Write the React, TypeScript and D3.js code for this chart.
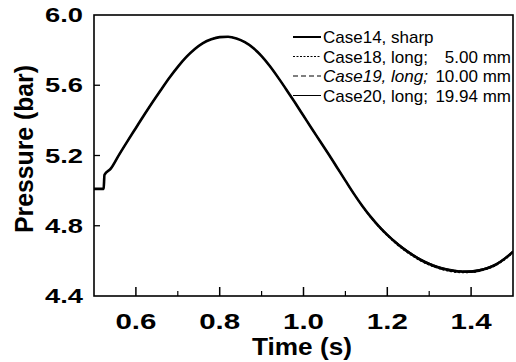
import React from "react";
import * as d3 from "d3";

const times = [0.5, 0.523, 0.525, 0.54, 0.56, 0.58, 0.6, 0.62, 0.64, 0.66, 0.68, 0.7, 0.72, 0.74, 0.76, 0.78, 0.8, 0.82, 0.84, 0.86, 0.88, 0.9, 0.92, 0.94, 0.96, 0.98, 1.0, 1.02, 1.04, 1.06, 1.08, 1.1, 1.12, 1.14, 1.16, 1.18, 1.2, 1.22, 1.24, 1.26, 1.28, 1.3, 1.32, 1.34, 1.36, 1.38, 1.4, 1.42, 1.44, 1.46, 1.48, 1.5];

const case14 = [5.01, 5.01, 5.09, 5.125, 5.205, 5.282, 5.357, 5.432, 5.505, 5.575, 5.643, 5.705, 5.76, 5.805, 5.84, 5.862, 5.874, 5.876, 5.866, 5.845, 5.812, 5.766, 5.708, 5.642, 5.572, 5.5, 5.426, 5.352, 5.28, 5.207, 5.132, 5.057, 4.983, 4.914, 4.852, 4.797, 4.748, 4.705, 4.667, 4.634, 4.605, 4.582, 4.564, 4.551, 4.542, 4.538, 4.539, 4.546, 4.559, 4.58, 4.612, 4.652];
const case18 = [5.01, 5.01, 5.09, 5.125, 5.205, 5.282, 5.357, 5.432, 5.505, 5.575, 5.643, 5.705, 5.76, 5.805, 5.84, 5.862, 5.874, 5.876, 5.866, 5.845, 5.812, 5.766, 5.708, 5.642, 5.572, 5.5, 5.426, 5.352, 5.28, 5.207, 5.132, 5.057, 4.981, 4.911, 4.848, 4.792, 4.743, 4.699, 4.661, 4.628, 4.599, 4.576, 4.558, 4.545, 4.536, 4.533, 4.534, 4.541, 4.554, 4.575, 4.606, 4.646];
const case19 = [5.01, 5.01, 5.09, 5.125, 5.205, 5.282, 5.357, 5.432, 5.505, 5.575, 5.643, 5.705, 5.76, 5.805, 5.84, 5.862, 5.874, 5.876, 5.866, 5.845, 5.812, 5.766, 5.708, 5.642, 5.572, 5.5, 5.426, 5.352, 5.28, 5.207, 5.132, 5.057, 4.982, 4.912, 4.85, 4.794, 4.745, 4.702, 4.664, 4.631, 4.602, 4.579, 4.561, 4.548, 4.539, 4.535, 4.536, 4.543, 4.556, 4.577, 4.609, 4.649];
const case20 = [5.01, 5.01, 5.09, 5.125, 5.205, 5.282, 5.357, 5.432, 5.505, 5.575, 5.643, 5.705, 5.76, 5.805, 5.84, 5.862, 5.874, 5.876, 5.866, 5.845, 5.812, 5.766, 5.708, 5.642, 5.572, 5.5, 5.426, 5.352, 5.28, 5.207, 5.132, 5.057, 4.985, 4.917, 4.856, 4.802, 4.753, 4.711, 4.673, 4.64, 4.611, 4.588, 4.57, 4.557, 4.548, 4.543, 4.544, 4.551, 4.564, 4.585, 4.617, 4.657];

const xMajor = [0.6, 0.8, 1.0, 1.2, 1.4];
const xMinor = [0.7, 0.9, 1.1, 1.3];
const yMajor = [6.0, 5.6, 5.2, 4.8, 4.4];
const legendNames = ["Case14, sharp", "Case18, long;", "Case19, long;", "Case20, long;"];
const legendValues = ["", "5.00 mm", "10.00 mm", "19.94 mm"];

const W = 516, H = 362;
const L = 94, R = 513, T = 15, B = 296;

export default function App() {
  const x = d3.scaleLinear().domain([0.5, 1.5]).range([L, R]);
  const y = d3.scaleLinear().domain([4.4, 6.0]).range([B, T]);
  const mk = (vals: number[]) =>
    d3.line<number>().x((_, i) => x(times[i])).y((v) => y(v)).curve(d3.curveMonotoneX)(vals) || "";

  const series = [
    { vals: case14, w: 2.6, dash: "" },
    { vals: case18, w: 1.2, dash: "2,2" },
    { vals: case19, w: 1.2, dash: "5,3" },
    { vals: case20, w: 1, dash: "" },
  ];
  const legendDash = ["", "2,1.5", "5,3", ""];
  const legendW = [2, 1, 1.2, 1];
  const font = "'Liberation Sans', Arial, sans-serif";

  return (
    <svg width={W} height={H} style={{ position: "absolute", left: 0, top: 0, background: "#fff" }}>
      <rect x={0} y={0} width={W} height={H} fill="#fff" />
      <clipPath id="plot">
        <rect x={L} y={T} width={R - L} height={B - T} />
      </clipPath>
      <g clipPath="url(#plot)">
        {series.map((s, i) => (
          <path key={i} d={mk(s.vals)} fill="none" stroke="#000" strokeWidth={s.w} strokeDasharray={s.dash || undefined} />
        ))}
      </g>
      <rect x={L} y={T} width={R - L} height={B - T} fill="none" stroke="#000" strokeWidth={1.6} />
      {xMajor.map((t) => (
        <line key={"xM" + t} x1={x(t)} x2={x(t)} y1={B} y2={B - 9} stroke="#000" strokeWidth={1.5} />
      ))}
      {xMinor.map((t) => (
        <line key={"xm" + t} x1={x(t)} x2={x(t)} y1={B} y2={B - 5} stroke="#000" strokeWidth={1.2} />
      ))}
      {yMajor.slice(1, 4).map((v) => (
        <line key={"yM" + v} x1={L} x2={L + 6} y1={y(v)} y2={y(v)} stroke="#000" strokeWidth={1.3} />
      ))}
      {xMajor.map((t) => (
        <text key={"xl" + t} x={x(t)} y={329} textAnchor="middle" fontFamily={font} fontWeight="bold" fontSize={22}
          textLength={41} lengthAdjust="spacingAndGlyphs">{t.toFixed(1)}</text>
      ))}
      {yMajor.map((v) => (
        <text key={"yl" + v} x={83} y={y(v) + 7} textAnchor="end" fontFamily={font} fontWeight="bold" fontSize={20}
          textLength={38} lengthAdjust="spacingAndGlyphs">{v.toFixed(1)}</text>
      ))}
      <text x={302} y={355} textAnchor="middle" fontFamily={font} fontWeight="bold" fontSize={24}
        textLength={100} lengthAdjust="spacingAndGlyphs">Time (s)</text>
      <text transform={`translate(33,149) rotate(-90)`} textAnchor="middle" fontFamily={font} fontWeight="bold" fontSize={25}
        textLength={168} lengthAdjust="spacingAndGlyphs">Pressure (bar)</text>
      {legendNames.map((n, i) => {
        const cy = 37 + i * 19.5;
        return (
          <g key={"lg" + i}>
            <line x1={293} x2={321} y1={cy} y2={cy} stroke="#000" strokeWidth={legendW[i]} strokeDasharray={legendDash[i] || undefined} />
            <text x={323} y={cy + 6} fontFamily={font} fontSize={17} fontStyle={i === 2 ? "italic" : "normal"}>{n}</text>
            {legendValues[i] && (
              <text x={511} y={cy + 6} textAnchor="end" fontFamily={font} fontSize={17}>{legendValues[i]}</text>
            )}
          </g>
        );
      })}
    </svg>
  );
}
